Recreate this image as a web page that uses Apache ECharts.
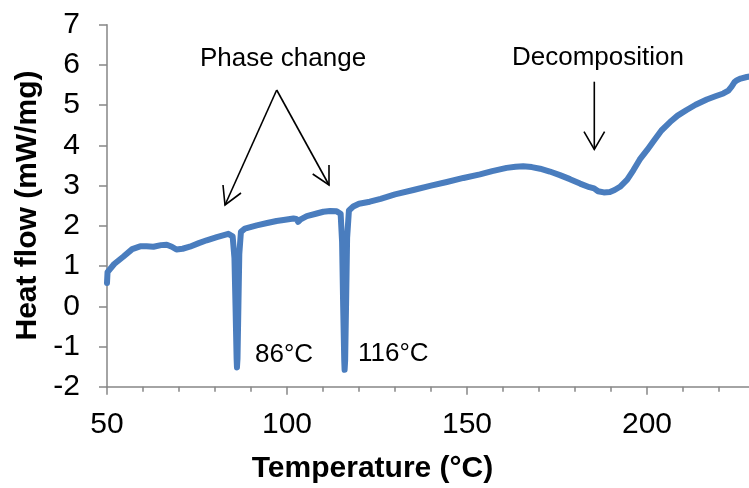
<!DOCTYPE html>
<html>
<head>
<meta charset="utf-8">
<script src="https://cdn.jsdelivr.net/npm/echarts@6/dist/echarts.min.js"></script>
<style>
html,body{margin:0;padding:0;background:#fff;overflow:hidden;width:749px;height:488px;}
#chart{width:830px;height:488px;}
</style>
</head>
<body>
<div id="chart"></div>
<script>
const temperature = [50.0,50.15,52,54.5,57,59.2,61,62.9,65,66.6,68,69.3,71,73,75.5,77.7,80.5,83.7,84.9,85.4,85.7,86.0,86.1,86.25,86.5,86.75,87.2,88.3,91.6,94.5,97.1,99.5,101.8,102.6,103.1,103.8,105.5,108,110.1,112,113.8,114.9,115.3,115.6,115.9,116.0,116.15,116.4,116.7,117.2,118.4,120,123,126,130,135.1,140,144.4,149,153.6,157,161,163.5,165.6,168,170.3,173,175.8,178.6,181.4,184,185.3,186.4,188,189.7,191,192.5,194.5,196.2,198,200,201.8,204,206.4,208.5,211,213.5,216.6,219,221.2,222.6,223.5,224.3,225,226,227.7,229,231];
const heatFlow = [0.58,0.85,1.05,1.23,1.42,1.49,1.49,1.48,1.52,1.53,1.48,1.41,1.43,1.48,1.57,1.64,1.72,1.80,1.74,1.2,0,-1.3,-1.52,-1.3,0,1.3,1.85,1.93,2.01,2.07,2.12,2.15,2.18,2.17,2.10,2.16,2.24,2.30,2.35,2.37,2.36,2.30,1.6,0,-1.35,-1.58,-1.35,0,1.7,2.38,2.48,2.55,2.60,2.67,2.78,2.89,3.0,3.09,3.19,3.28,3.36,3.44,3.47,3.48,3.46,3.42,3.35,3.26,3.16,3.05,2.96,2.93,2.86,2.83,2.84,2.89,2.97,3.15,3.38,3.65,3.88,4.10,4.37,4.58,4.74,4.88,5.01,5.14,5.22,5.29,5.36,5.46,5.57,5.62,5.66,5.70,5.72,5.75];
const xTitle = 'Temperature (°C)';
const yTitle = 'Heat flow (mW/mg)';
const annotations = ['Phase change', 'Decomposition', '86°C', '116°C'];

const seriesData = temperature.map((t, i) => [t, heatFlow[i]]);
const FONT = '"Liberation Sans", Arial, sans-serif';
const axisColor = '#868686';

const chart = echarts.init(document.getElementById('chart'), null, {renderer: 'canvas', width: 830, height: 488});

function txt(text, x, y, size, weight, align, valign, rot) {
  return {
    type: 'text', x: x, y: y, rotation: rot || 0, z: 100,
    style: {
      text: text, x: 0, y: 0,
      font: (weight || 'normal') + ' ' + size + 'px ' + FONT,
      fill: '#000',
      textAlign: align, align: align,
      textVerticalAlign: valign, verticalAlign: valign
    }
  };
}
function line(points) {
  return {type: 'polyline', z: 100, shape: {points: points}, style: {stroke: '#000', lineWidth: 1.6, fill: null}};
}

chart.setOption({
  animation: false,
  backgroundColor: '#fff',
  grid: {left: 107, top: 24.7, bottom: 101.3, right: 3, containLabel: false, outerBoundsMode: 'none'},
  xAxis: [{
    type: 'value', min: 50, max: 250, interval: 10,
    axisLine: {show: true, onZero: false, lineStyle: {color: axisColor, width: 1.5}},
    axisTick: {show: true, length: 5, lineStyle: {color: axisColor, width: 1.5}},
    axisLabel: {fontSize: 30, fontFamily: FONT, color: '#000', margin: 23,
      formatter: function (v) { return v % 50 === 0 ? String(v) : ''; }},
    splitLine: {show: false}
  }, {
    type: 'value', min: 50, max: 250, interval: 50, position: 'bottom',
    axisLine: {show: false, onZero: false},
    axisTick: {show: true, length: 8, lineStyle: {color: axisColor, width: 1.5}},
    axisLabel: {show: false},
    splitLine: {show: false}
  }],
  yAxis: {
    type: 'value', min: -2, max: 7, interval: 1,
    axisLine: {show: true, onZero: false, lineStyle: {color: axisColor, width: 1.5}},
    axisTick: {show: true, length: 8, lineStyle: {color: axisColor, width: 1.5}},
    axisLabel: {fontSize: 30, fontFamily: FONT, color: '#000', margin: 27},
    splitLine: {show: false}
  },
  series: [{
    type: 'line', data: seriesData, symbol: 'none', smooth: false, xAxisIndex: 0,
    lineStyle: {color: '#4a7dbe', width: 6, cap: 'round', join: 'round'}
  }],
  graphic: [
    txt(yTitle, 28, 205.5, 30, 'bold', 'center', 'middle', Math.PI / 2),
    txt(xTitle, 372.5, 469, 30, 'bold', 'center', 'middle'),
    txt(annotations[0], 283, 59, 26, 'normal', 'center', 'middle'),
    txt(annotations[1], 598, 57.5, 26, 'normal', 'center', 'middle'),
    txt(annotations[2], 255, 355, 26, 'normal', 'left', 'middle'),
    txt(annotations[3], 358, 354, 26, 'normal', 'left', 'middle'),
    line([[276.7, 90], [225, 205]]),
    line([[223, 185], [225, 205], [241, 193]]),
    line([[276.7, 90], [329, 185]]),
    line([[312.7, 174], [329, 185], [329, 165]]),
    line([[594.3, 81.7], [594.3, 149.3]]),
    line([[584, 131.7], [594.3, 149.3], [604.6, 131.7]])
  ]
});
</script>
</body>
</html>
